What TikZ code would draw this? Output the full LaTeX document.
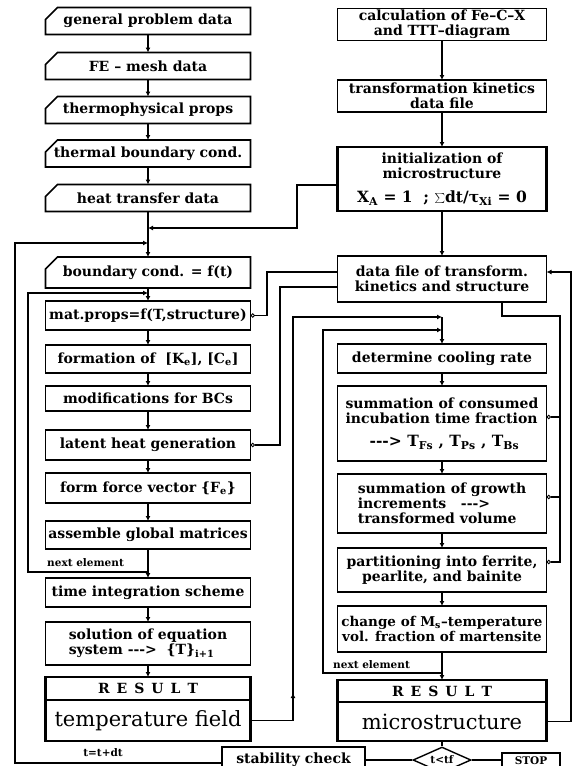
\documentclass[tikz,border=0pt]{standalone}
\usepackage{fontspec}
\newfontfamily\fcserif{DejaVu Serif}
\usetikzlibrary{arrows.meta,shapes.geometric,decorations.markings}
\newcommand{\fcfont}{\fcserif\bfseries\fontsize{14pt}{15pt}\selectfont}
\newcommand{\fcbigfont}{\fcserif\fontsize{21pt}{24pt}\selectfont}
\newcommand{\fcsmallfont}{\fcserif\bfseries\fontsize{10.5pt}{12pt}\selectfont}
\newcommand{\fclargefont}{\fontsize{15.5pt}{16pt}\selectfont}
\newcommand{\resulthead}{R\hspace{7pt}E\hspace{7pt}S\hspace{7pt}U\hspace{7pt}L\hspace{7pt}T}
\tikzset{
 fc box/.style={draw,line width=1.7pt,minimum width=205pt,minimum height=28pt,
                inner sep=1pt,outer sep=0pt,align=center,font=\fcfont},
 fc wide/.style={fc box,minimum width=209pt},
 fc card/.style={fc box,draw=none},
 fc border/.style={line width=1.7pt,line join=miter},
 fc result/.style={line width=2.8pt},
 fc line/.style={line width=1.6pt},
 fc arrow/.style={fc line,-{Latex[length=5pt,width=5pt]}},
 fc data/.style={fc line,{Circle[open,length=4.5pt,width=4.5pt,line width=1pt]}-},
 fc data end/.style={fc line,-{Circle[open,length=4.5pt,width=4.5pt,line width=1pt]}},
 fc label/.style={font=\fcsmallfont,inner sep=0pt}
}
\begin{document}
\begin{tikzpicture}[x=1pt,y=-1pt]
 \useasboundingbox (0,0) rectangle (573,766);
 % input data cards
 \foreach \n/\y/\t in {gen/21/general problem data,mesh/66/FE – mesh data,
   thermo/110/thermophysical props,thermal/153.5/thermal boundary cond.,
   heat/198/heat transfer data}{
   \node[fc card,minimum height=27pt] (\n) at (148,\y) {\t};
 }
 \node[fc card,minimum height=31pt] (bc) at (148,272.5) {boundary cond. = f(t)};
 \foreach \n in {gen,mesh,thermo,thermal,heat,bc}{
   \draw[fc border] ([xshift=12pt]\n.north west) -- (\n.north east)
     -- (\n.south east) -- (\n.south west) -- ([yshift=-12pt]\n.north west) -- cycle;
 }
 % element loop (temperature)
 \node[fc box,minimum height=29pt] (mat) at (148,315.5) {mat.props=f(T,structure)};
 \node[fc box] (form) at (148,359) {formation of~~[K\textsubscript{e}], [C\textsubscript{e}]};
 \node[fc box,minimum height=25pt] (mod) at (148,398.5) {modifications for BCs};
 \node[fc box,minimum height=30pt] (latent) at (148,445) {latent heat generation};
 \node[fc box,minimum height=30pt] (force) at (148,488) {form force vector \{F\textsubscript{e}\}};
 \node[fc box] (asm) at (148,535) {assemble global matrices};
 \node[fc box,minimum height=29pt] (time) at (148,592.5) {time integration scheme};
 \node[fc box,minimum height=43pt,align=left] (sol) at (148,643.5)
   {solution of equation\\system {-}{-}{-}>~~\{T\}\textsubscript{i+1}};
 \node[fc box,minimum height=23pt] (resThead) at (148,688.5) {\resulthead};
 \node[fc box,minimum height=41pt,font=\fcbigfont] (resT) at (148,720.5) {temperature field};
 \draw[fc result] (resThead.north west) rectangle (resT.south east);
 % transformation kinetics
 \node[fc wide,minimum height=32pt] (calc) at (442,24.5) {calculation of Fe–C–X\\and TTT–diagram};
 \node[fc wide,minimum height=32pt] (trans) at (442,96) {transformation kinetics\\data file};
 \node[fc wide,minimum height=64pt,line width=2.6pt] (init) at (442,179)
   {initialization of\\microstructure\\[9pt]{\fclargefont X\textsubscript{A} = 1~~;~$\sum$dt/τ\textsubscript{Xi} = 0}};
 \node[fc wide,minimum height=46pt] (data) at (442,279) {data file of transform.\\kinetics and structure};
 \node[fc wide,minimum height=29pt] (cool) at (442,358.5) {determine cooling rate};
 \node[fc wide,minimum height=75pt,align=left] (cons) at (442,423.5)
   {summation of consumed\\incubation time fraction\\[8pt]\hspace*{24pt}{\fclargefont{-}{-}{-}> T\textsubscript{Fs} , T\textsubscript{Ps} , T\textsubscript{Bs}}};
 \node[fc wide,minimum height=59pt,align=left] (grow) at (442,503.5)
   {summation of growth\\increments~~~{-}{-}{-}>\\transformed volume};
 \node[fc wide,minimum height=44pt] (part) at (442,570) {partitioning into ferrite,\\pearlite, and bainite};
 \node[fc wide,minimum height=46pt,font=\fcserif\bfseries\fontsize{13.5pt}{15pt}\selectfont] (ms) at (442,629)
   {change of M\textsubscript{s}–temperature\\vol. fraction of martensite};
 \node[fc wide,minimum height=22pt] (resMhead) at (442,691) {\resulthead};
 \node[fc wide,minimum height=39pt,font=\fcbigfont] (resM) at (442,721.5) {microstructure};
 \draw[fc result] (resMhead.north west) rectangle (resM.south east);
 % time step control
 \node[draw,diamond,aspect=2,line width=1.4pt,minimum width=58pt,minimum height=26pt,
       inner sep=0pt,font=\fcsmallfont] (diam) at (442,760) {t<tf};
 \node[fc box,minimum width=143pt,minimum height=26pt] (stab) at (293.5,760) {stability check};
 \node[fc box,minimum width=58pt,minimum height=16pt,inner sep=0pt,font=\fcsmallfont] (stop) at (531,761) {STOP};
 % main flow
 \foreach \a/\b in {gen/mesh,mesh/thermo,thermo/thermal,thermal/heat,heat/bc,bc/mat,
   mat/form,form/mod,mod/latent,latent/force,force/asm,asm/time,time/sol,sol/resThead,
   calc/trans,trans/init,init/data,cool/cons,cons/grow,grow/part,part/ms,ms/resMhead}{
   \draw[fc arrow] (\a.south) -- (\b.north);
 }
 \draw[fc line] (resM.south) -- (diam.north);
 \draw[fc line] (diam.west) -- (diam.west -| stab.east);
 \draw[fc line] (diam.east) -- (diam.east -| stop.west);
 % loops
 \draw[fc arrow] ([yshift=-6pt]init.west) -| (297,228) -- (heat.south |- 0,228);
 \draw[fc arrow] ([yshift=-3pt]stab.west) -| (15,243) -- (heat.south |- 0,243);
 \node[fc label] (tdt) at (103,753) {t=t+dt};
 \draw[fc arrow] (asm.south |- 0,572) -| (28,293) -- (bc.south |- 0,293);
 \node[fc label,anchor=west] (nextT) at (47,563) {next element};
 \draw[fc arrow,postaction={decorate},decoration={markings,
   mark=at position 70pt with {\arrow{Latex[length=5pt,width=5pt]}}}]
   (resT.east) -| (293,317) -- (cool.north |- 0,317);
 \draw[fc arrow] (cool.north |- 0,317) -- (cool.north);
 \draw[fc arrow] (ms.south |- 0,673) -| (323,330) -- (cool.north |- 0,330);
 \node[fc label,anchor=west] (nextM) at (333,665) {next element};
 % data exchange
 \draw[fc data] (mat.east) -| (267,272) -- (data.west |- 0,272);
 \draw[fc data] (latent.east) -| (280,287) -- (data.west |- 0,287);
 \draw[fc arrow] (resM.east) -| (571,272) -- (data.east |- 0,272);
 \draw[fc data end] ([xshift=60pt]data.south) |- (560,316) -- (560,562) -- (part.east |- 0,562);
 \draw[fc data end] (560,417) -- (cons.east |- 0,417);
 \draw[fc data end] (560,497) -- (grow.east |- 0,497);
\end{tikzpicture}
\end{document}
